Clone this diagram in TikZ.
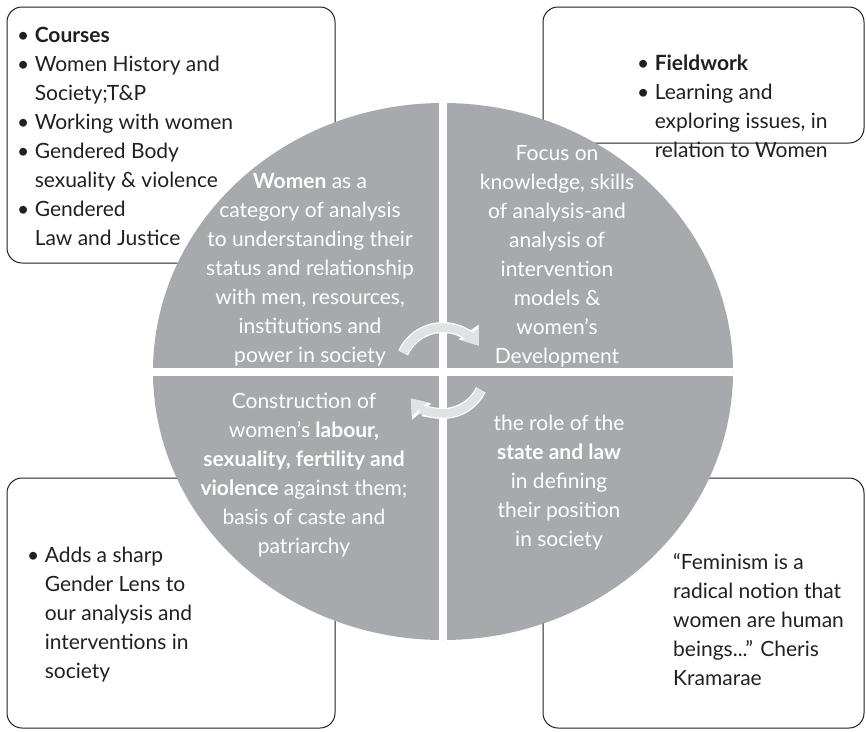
\documentclass[tikz,border=0pt]{standalone}
\usepackage{fontspec}
\setmainfont{Lato}
\usetikzlibrary{positioning,shapes.geometric,arrows.meta}

\definecolor{wheelgray}{HTML}{A7A9AC}
\definecolor{cyclegray}{HTML}{E1E2E3}
\definecolor{ink}{HTML}{231F20}

\tikzset{
  boxframe/.style={draw=ink, line width=1pt, rounded corners=15pt, inner sep=0pt},
  boxtext/.style={text=ink, align=left, inner sep=0pt, anchor=base west,
    font=\fontsize{21}{29}\selectfont},
  wheeltext/.style={text=white, align=center, inner sep=0pt, anchor=base,
    font=\fontsize{21}{29}\selectfont},
  cyclearrow/.style={line width=8.5pt, cyclegray,
    -{Triangle[width=21pt,length=14pt,line width=0pt]},
    preaction={draw=white, line width=11pt,
      -{Triangle[width=25pt,length=17pt,line width=0pt]}}}
}
\newcommand{\bulletgap}{\phantom{\textbullet\ }}

\begin{document}
\begin{tikzpicture}[x=1pt,y=-1pt]
  \useasboundingbox (0,0) rectangle (866,731);
  % four framed boxes, partly hidden by the wheel
  \node[boxframe, minimum width=328pt, minimum height=256pt] (b_1) at (171,135) {};
  \node[boxframe, minimum width=321pt, minimum height=136pt] (b_2) at (703.5,75) {};
  \node[boxframe, minimum width=328pt, minimum height=250pt] (b_3) at (171,603) {};
  \node[boxframe, minimum width=321pt, minimum height=250pt] (b_4) at (703.5,603) {};

  % texts sit on the baseline of their last line
  \node[boxtext] (courses) at (17,245) {\textbullet\ \textbf{Courses}\\
    \textbullet\ Women History and\\ \bulletgap Society;T\&P\\
    \textbullet\ Working with women\\ \textbullet\ Gendered Body\\
    \bulletgap sexuality \& violence\\ \textbullet\ Gendered\\
    \bulletgap Law and Justice};
  \node[boxtext] (fieldwork) at (637,157) {\textbullet\ \textbf{Fieldwork}\\
    \textbullet\ Learning and\\ \bulletgap exploring issues, in\\
    \bulletgap relation to Women};
  \node[boxtext] (lens) at (27,678) {\textbullet\ Adds a sharp\\
    \bulletgap Gender Lens to\\ \bulletgap our analysis and\\
    \bulletgap interventions in\\ \bulletgap society};
  \node[boxtext] (quote) at (673,685) {“Feminism is a\\ radical notion that\\
    women are human\\ beings...” Cheris\\ Kramarae};

  % the wheel, cut into quarters
  \node[ellipse, fill=wheelgray, inner sep=0pt,
    minimum width=580pt, minimum height=537pt] (wheel) at (443,371.5) {};
  \draw[white, line width=8pt] (wheel.north) -- (wheel.south)
                                (wheel.west) -- (wheel.east);

  \node[wheeltext] (q_1) at (310,362) {\textbf{Women} as a\\
    category of analysis\\ to understanding their\\ status and relationship\\
    with men, resources,\\ institutions and\\ power in society};
  \node[wheeltext] (q_2) at (557,363) {Focus on\\ knowledge, skills\\
    of analysis-and\\ analysis of\\ intervention\\ models \&\\
    women’s\\ Development};
  \node[wheeltext] (q_3) at (304,553) {Construction of\\
    women’s \textbf{labour,}\\ \textbf{sexuality, fertility and}\\
    \textbf{violence} against them;\\ basis of caste and\\ patriarchy};
  \node[wheeltext] (q_4) at (559,546) {the role of the\\
    \textbf{state and law}\\ in defining\\ their position\\ in society};

  % cycle arrows round the centre
  \draw[cyclearrow] (wheel.center) ++(205:44)
    arc[start angle=205, end angle=324, radius=44];
  \draw[cyclearrow] (wheel.center) ++(26:42)
    arc[start angle=26, end angle=140, radius=42];
\end{tikzpicture}
\end{document}
